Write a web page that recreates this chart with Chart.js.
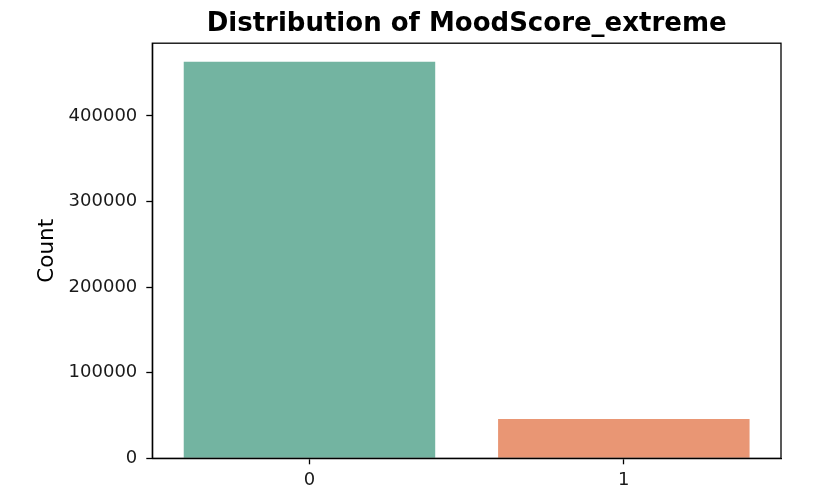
<!DOCTYPE html>
<html>
<head>
<meta charset="utf-8">
<script src="https://cdn.jsdelivr.net/npm/chart.js@4.4.0/dist/chart.umd.min.js"></script>
<style>
html,body{margin:0;padding:0;background:#fff;}
#wrap{width:819px;height:502px;position:relative;}
</style>
</head>
<body>
<div id="wrap"><canvas id="c" width="819" height="502"></canvas></div>
<script>
const categories = ['0', '1'];
const counts = [463300, 45900];
const barColors = ['#73b4a1', '#e99674'];
const yTickValues = [0, 100000, 200000, 300000, 400000];
const yMax = 485000;
const chartTitle = 'Distribution of MoodScore_extreme';
const yTitle = 'Count';

const frame = {
  id: 'frame',
  afterDatasetsDraw(chart) {
    const a = chart.chartArea, ctx = chart.ctx;
    ctx.save();
    ctx.strokeStyle = '#000';
    ctx.lineWidth = 1.3;
    ctx.strokeRect(a.left, a.top, a.right - a.left, a.bottom - a.top);
    ctx.restore();
  }
};

new Chart(document.getElementById('c'), {
  type: 'bar',
  data: {
    labels: categories,
    datasets: [{
      data: counts,
      backgroundColor: barColors,
      borderWidth: 0,
      barPercentage: 0.8,
      categoryPercentage: 1.0
    }]
  },
  options: {
    responsive: false,
    animation: false,
    devicePixelRatio: 1,
    layout: { padding: { top: 0, right: 38, bottom: 0, left: 0 } },
    plugins: {
      legend: { display: false },
      tooltip: { enabled: false },
      title: {
        display: true,
        text: chartTitle,
        fullSize: false,
        color: '#000',
        font: { family: 'DejaVu Sans', size: 26, weight: 'bold' },
        padding: { top: 9, bottom: 3 }
      }
    },
    scales: {
      x: {
        offset: true,
        grid: { display: true, drawOnChartArea: false, drawTicks: true, tickLength: 6, tickColor: '#000', tickWidth: 1.3, offset: false },
        border: { display: true, color: '#000', width: 1.3 },
        ticks: { color: '#1a1a1a', padding: 5, font: { family: 'DejaVu Sans', size: 18 } },
        afterFit(scale) { scale.height = 43.7; }
      },
      y: {
        min: 0,
        max: yMax,
        grid: { display: true, drawOnChartArea: false, drawTicks: true, tickLength: 6, tickColor: '#000', tickWidth: 1.3 },
        border: { display: true, color: '#000', width: 1.3 },
        ticks: {
          color: '#1a1a1a', padding: 9, font: { family: 'DejaVu Sans', size: 18 },
          callback: (v) => String(v)
        },
        afterBuildTicks(scale) { scale.ticks = yTickValues.map(v => ({ value: v })); },
        title: {
          display: true,
          text: yTitle,
          color: '#000',
          font: { family: 'DejaVu Sans', size: 21.5 },
          padding: { top: 35, bottom: 0 }
        },
        afterFit(scale) { scale.width = 152.3; }
      }
    }
  },
  plugins: [frame]
});
</script>
</body>
</html>
